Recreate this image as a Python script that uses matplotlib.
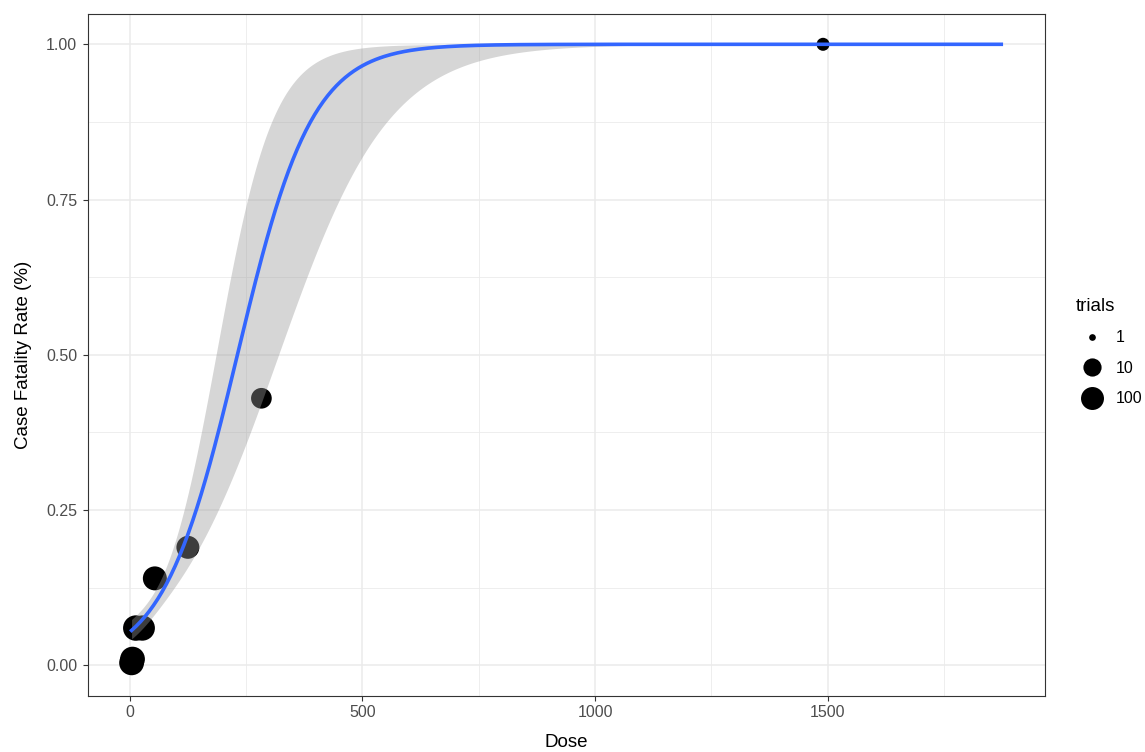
import numpy as np
import matplotlib.pyplot as plt
from matplotlib.lines import Line2D
from matplotlib.ticker import MultipleLocator, FormatStrFormatter

plt.rcParams['font.family'] = ['Liberation Sans', 'DejaVu Sans']

# observed data
dose = [4, 6, 13, 27, 54, 125, 283, 1490]
fatality = [0.004, 0.01, 0.06, 0.06, 0.14, 0.19, 0.43, 1.00]
trials = [300, 300, 450, 400, 180, 100, 30, 2]

# logistic fit (binomial glm)
fit_intercept = -2.87
fit_slope = 0.0124
fit_var_a = 0.0240
fit_cov_ab = -2.365e-4
fit_var_b = 4.3e-6
fit_dose_max = 1873

legend_breaks = [1, 10, 100]

DPI = 100


def expit(z):
    return 1 / (1 + np.exp(-z))


def point_area(t):
    # diameter in px grows with sqrt(log10(trials)), like ggplot's area scale on log10
    d_px = 6.7 + 11.5 * np.sqrt(np.log10(np.asarray(t, dtype=float)))
    return (d_px * 72 / DPI) ** 2


fig = plt.figure(figsize=(11.45, 7.52), dpi=DPI)
ax = fig.add_axes([87.7 / 1145, 56 / 752, 957.3 / 1145, 682 / 752])

# fitted curve + 95% band on the link scale
xs = np.linspace(min(dose), fit_dose_max, 400)
eta = fit_intercept + fit_slope * xs
se = np.sqrt(fit_var_a + 2 * fit_cov_ab * xs + fit_var_b * xs ** 2)

ax.scatter(dose, fatality, s=point_area(trials), color='black', linewidths=0, zorder=2)
ax.fill_between(xs, expit(eta - 1.96 * se), expit(eta + 1.96 * se),
                color='#999999', alpha=0.4, linewidth=0, zorder=3)
ax.plot(xs, expit(eta), color='#3366FF', linewidth=2.6, zorder=4)

ax.set_xlim(-90.3, 1967)
ax.set_ylim(-0.0494, 1.0488)
ax.xaxis.set_major_locator(MultipleLocator(500))
ax.xaxis.set_minor_locator(MultipleLocator(250))
ax.yaxis.set_major_locator(MultipleLocator(0.25))
ax.yaxis.set_minor_locator(MultipleLocator(0.125))
ax.yaxis.set_major_formatter(FormatStrFormatter('%.2f'))

ax.grid(which='major', color='#EBEBEB', linewidth=1.1, zorder=0)
ax.grid(which='minor', color='#EBEBEB', linewidth=0.6, zorder=0)
ax.set_axisbelow(True)

for sp in ax.spines.values():
    sp.set_color('#333333')
    sp.set_linewidth(0.8)

ax.tick_params(which='major', length=3.6, width=0.8, color='#333333',
               labelsize=11.5, labelcolor='#4D4D4D', pad=3)
ax.tick_params(axis='y', which='major', pad=4)
ax.tick_params(which='minor', length=0)

ax.set_xlabel('Dose', fontsize=13.5)
ax.set_ylabel('Case Fatality Rate (%)', fontsize=13.5)
ax.xaxis.set_label_coords(0.5, -0.056)
ax.yaxis.set_label_coords(-0.058, 0.5)

handles = [Line2D([], [], linestyle='none', marker='o', color='black', markeredgewidth=0,
                  markersize=np.sqrt(point_area(b))) for b in legend_breaks]
leg = ax.legend(handles, [str(b) for b in legend_breaks], title='trials',
                loc='center left', bbox_to_anchor=(0.9342, 0.532),
                bbox_transform=fig.transFigure, frameon=False, fontsize=11.5,
                title_fontsize=13.5, alignment='left', handlelength=2.0,
                handletextpad=0.5, labelspacing=0.97, borderaxespad=0,
                numpoints=1)

fig.savefig('out.png', dpi=DPI)
